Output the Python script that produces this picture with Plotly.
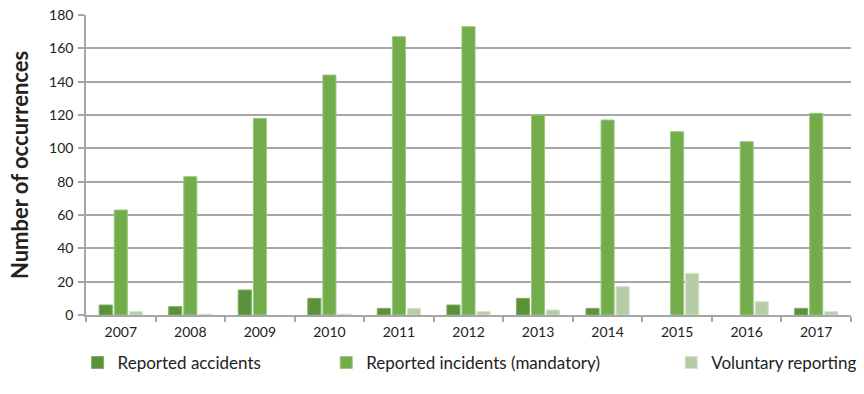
import plotly.graph_objects as go

years = ["2007", "2008", "2009", "2010", "2011", "2012", "2013", "2014", "2015", "2016", "2017"]
accidents = [6, 5, 15, 10, 4, 6, 10, 4, 0, 0, 4]
incidents = [63, 83, 118, 144, 167, 173, 120, 117, 110, 104, 121]
voluntary = [2, 0.5, 0, 0.5, 4, 2, 3, 17, 25, 8, 2]
y_ticks = [0, 20, 40, 60, 80, 100, 120, 140, 160, 180]

FONT = "Lato"
GRID = "#a6a6a6"

fig = go.Figure()
fig.add_trace(go.Bar(x=years, y=accidents, name="Reported accidents",
                     marker=dict(color="#5b9139", line=dict(color="#7fae62", width=[1 if v > 0 else 0 for v in accidents])),
                     legend="legend", showlegend=True))
fig.add_trace(go.Bar(x=years, y=incidents, name="Reported incidents (mandatory)",
                     marker=dict(color="#73ac4b", line=dict(color="#9cc882", width=1)),
                     legend="legend2", showlegend=True))
fig.add_trace(go.Bar(x=years, y=voluntary, name="Voluntary reporting",
                     marker=dict(color="#b4cda6", line=dict(color="#d3e2ca", width=[1 if v > 0 else 0 for v in voluntary])),
                     legend="legend3", showlegend=True))

leg_common = dict(orientation="h", yanchor="middle", y=-0.16, xanchor="left",
                  font=dict(family=FONT, size=17, color="#222222"),
                  bgcolor="rgba(0,0,0,0)", itemwidth=30, visible=True)

fig.update_layout(
    width=864, height=394,
    margin=dict(l=86, r=13, t=15, b=79, autoexpand=False),
    paper_bgcolor="white", plot_bgcolor="white",
    showlegend=True,
    barmode="group", bargap=0.35, bargroupgap=0.13,
    font=dict(family=FONT, size=14, color="#222222"),
    legend=dict(**leg_common, x=-0.011),
    legend2=dict(**leg_common, x=0.314),
    legend3=dict(**leg_common, x=0.765),
    xaxis=dict(
        showline=True, linecolor=GRID, linewidth=1.5,
        ticks="outside", tickson="boundaries", ticklen=5, tickcolor=GRID, tickwidth=1.5,
        tickfont=dict(family=FONT, size=14, color="#222222"),
        showgrid=False, ticklabelstandoff=3,
    ),
    yaxis=dict(
        range=[0, 180], tickvals=y_ticks,
        showline=True, linecolor=GRID, linewidth=1.5,
        ticks="outside", ticklen=6, tickcolor=GRID, tickwidth=1.5,
        showgrid=True, gridcolor=GRID, gridwidth=1.5,
        zeroline=False, ticklabelstandoff=2,
        tickfont=dict(family=FONT, size=14, color="#222222"),
        title=dict(text="<b>Number of occurrences</b>", font=dict(family=FONT, size=22, color="#222222"), standoff=14),
    ),
)

fig.write_html("out.html", config={"displayModeBar": False},
               post_script="document.body.style.margin='0';document.body.style.padding='0';")
